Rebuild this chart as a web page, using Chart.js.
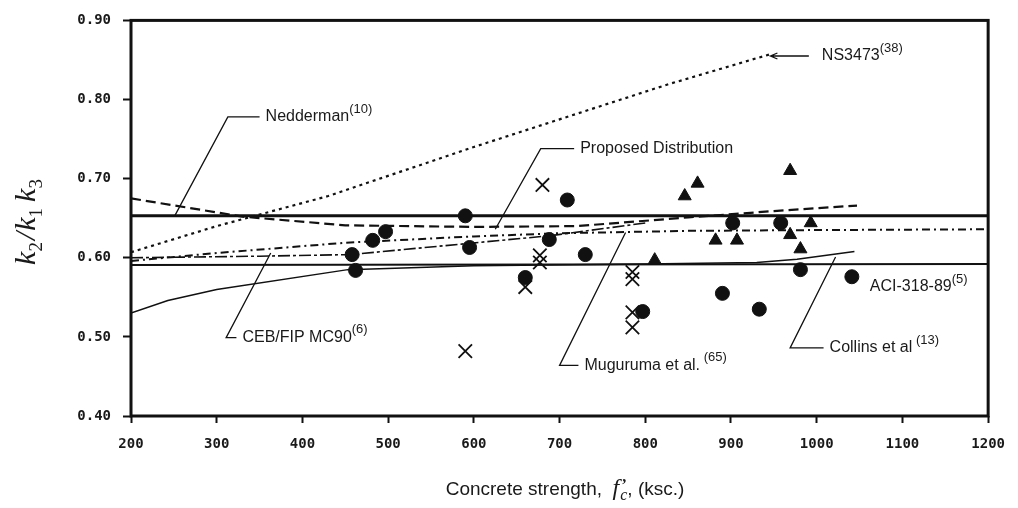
<!DOCTYPE html>
<html>
<head>
<meta charset="utf-8">
<script src="https://cdn.jsdelivr.net/npm/chart.js@4.4.0/dist/chart.umd.min.js"></script>
<style>
  html, body { margin: 0; padding: 0; background: #fff; }
</style>
</head>
<body>
<canvas id="k2Chart" width="1018" height="508"></canvas>
<script>
// axis ticks
const xTicks = [200, 300, 400, 500, 600, 700, 800, 900, 1000, 1100, 1200];
const yTicks = [0.40, 0.50, 0.60, 0.70, 0.80, 0.90];

// design curves: [f'c (ksc), k2/k1k3]
const neddermanCurve = [[200, 0.653], [1200, 0.653]];
const aciCurve = [[200, 0.591], [1200, 0.592]];
const proposedCurve = [[200, 0.675], [330, 0.652], [450, 0.641], [600, 0.639], [720, 0.640], [850, 0.651], [950, 0.659], [1047, 0.666]];
const ns3473Curve = [[200, 0.607], [300, 0.640], [430, 0.678], [600, 0.740], [826, 0.819], [945, 0.857]];
const mugurumaCurve = [[200, 0.596], [300, 0.606], [450, 0.619], [600, 0.627], [700, 0.631], [850, 0.634], [1000, 0.635], [1200, 0.636]];
const cebFipCurve = [[200, 0.600], [350, 0.602], [456, 0.604], [690, 0.628], [800, 0.644]];
const collinsCurve = [[200, 0.530], [243, 0.546], [300, 0.560], [453, 0.585], [600, 0.590], [800, 0.592], [930, 0.594], [977, 0.598], [1044, 0.608]];

// test results
const circlePts = [[458, 0.604], [462, 0.584], [482, 0.622], [497, 0.633], [590, 0.653], [595, 0.613], [660, 0.575], [688, 0.623], [709, 0.673], [730, 0.604], [797, 0.532], [890, 0.555], [902, 0.644], [933, 0.535], [958, 0.644], [981, 0.585], [1041, 0.576]];
const crossPts = [[680, 0.692], [677, 0.603], [677, 0.594], [660, 0.563], [590, 0.482], [785, 0.582], [785, 0.573], [785, 0.531], [785, 0.512]];
const trianglePts = [[811, 0.597], [846, 0.678], [861, 0.694], [882, 0.622], [907, 0.622], [969, 0.710], [969, 0.629], [981, 0.611], [993, 0.644]];

const xy = arr => arr.map(p => ({ x: p[0], y: p[1] }));

// callouts: leader from 'at' via 'elbow' to the text
const notes = [
  { label: 'Nedderman', sup: '(10)', at: [251, 0.653], elbow: [313, 0.778], text: [357, 0.778] },
  { label: 'NS3473', sup: '(38)', at: [946, 0.855], arrow: true, text: [1006, 0.855] },
  { label: 'Proposed Distribution', sup: '', at: [625, 0.636], elbow: [678, 0.738], text: [724, 0.738] },
  { label: 'CEB/FIP MC90', sup: '(6)', at: [363, 0.606], elbow: [311, 0.499], text: [330, 0.499] },
  { label: 'Muguruma et al.', sup: ' (65)', at: [777, 0.632], elbow: [700, 0.464], text: [729, 0.464] },
  { label: 'Collins et al', sup: ' (13)', at: [1022, 0.601], elbow: [969, 0.486], text: [1015, 0.486] },
  { label: 'ACI-318-89', sup: '(5)', text: [1062, 0.563] }
];

function drawRuns(ctx, runs, x0, y0) {
  let x = x0;
  runs.forEach(r => {
    ctx.font = r.font;
    ctx.fillText(r.t, x, y0 + (r.dy || 0));
    x += ctx.measureText(r.t).width + (r.gap || 0);
  });
  return x - x0;
}

function runsWidth(ctx, runs) {
  return runs.reduce((w, r) => { ctx.font = r.font; return w + ctx.measureText(r.t).width + (r.gap || 0); }, 0);
}

const frameAndNotes = {
  id: 'frameAndNotes',
  afterDatasetsDraw(chart) {
    const { ctx, chartArea: a, scales: { x, y } } = chart;
    ctx.save();
    ctx.strokeStyle = '#111';
    ctx.fillStyle = '#1a1a1a';

    // plot frame
    ctx.lineWidth = 3;
    ctx.strokeRect(a.left, a.top, a.right - a.left, a.bottom - a.top);

    // callouts
    ctx.lineWidth = 1.3;
    notes.forEach(n => {
      const tx = x.getPixelForValue(n.text[0]);
      const ty = y.getPixelForValue(n.text[1]);
      if (n.at) {
        const ax = x.getPixelForValue(n.at[0]);
        const ay = y.getPixelForValue(n.at[1]);
        ctx.beginPath();
        if (n.elbow) {
          const ex = x.getPixelForValue(n.elbow[0]);
          const ey = y.getPixelForValue(n.elbow[1]);
          ctx.moveTo(ax, ay);
          ctx.lineTo(ex, ey);
          ctx.lineTo(tx - 6, ey);
        } else {
          ctx.moveTo(tx - 13, ty);
          ctx.lineTo(ax, ay);
          ctx.moveTo(ax + 7, ay - 3);
          ctx.lineTo(ax, ay);
          ctx.lineTo(ax + 7, ay + 3);
        }
        ctx.stroke();
      }
      ctx.textBaseline = 'middle';
      ctx.textAlign = 'left';
      drawRuns(ctx, [
        { t: n.label, font: '16px "Liberation Sans"' },
        { t: n.sup, font: '13px "Liberation Sans"', dy: -8 }
      ], tx, ty);
    });

    // y title
    const yRuns = [
      { t: 'k', font: 'italic 30px "Liberation Serif"' },
      { t: '2', font: '19px "Liberation Serif"', dy: 7, gap: 2 },
      { t: '/', font: 'italic 30px "Liberation Serif"', gap: 1 },
      { t: 'k', font: 'italic 30px "Liberation Serif"' },
      { t: '1', font: '19px "Liberation Serif"', dy: 7, gap: 6 },
      { t: 'k', font: 'italic 30px "Liberation Serif"' },
      { t: '3', font: '19px "Liberation Serif"', dy: 7 }
    ];
    ctx.textBaseline = 'alphabetic';
    ctx.save();
    ctx.translate(35, 222);
    ctx.rotate(-Math.PI / 2);
    drawRuns(ctx, yRuns, -runsWidth(ctx, yRuns) / 2, 0);
    ctx.restore();

    // x title
    const lead = 'Concrete strength,  ';
    const xRuns = [
      { t: lead, font: '19px "Liberation Sans"' },
      { t: 'f', font: 'italic 24px "Liberation Serif"', gap: 1 },
      { t: 'c', font: 'italic 16px "Liberation Serif"', dy: 5 },
      { t: ', (ksc.)', font: '19px "Liberation Sans"' }
    ];
    const xs = 565 - runsWidth(ctx, xRuns) / 2;
    drawRuns(ctx, xRuns, xs, 495);
    ctx.font = '19px "Liberation Sans"';
    const fx = xs + ctx.measureText(lead).width;
    // prime on f
    ctx.font = 'bold 16px "Liberation Serif"';
    ctx.fillText('\u2019', fx + 9, 490);

    ctx.restore();
  }
};

const lineSet = (data, width, dash) => ({
  data: xy(data),
  showLine: true,
  borderColor: '#111',
  borderWidth: width,
  borderDash: dash,
  pointRadius: 0,
  pointHoverRadius: 0,
  fill: false,
  tension: 0
});

new Chart(document.getElementById('k2Chart'), {
  type: 'scatter',
  data: {
    datasets: [
      { data: xy(circlePts), pointStyle: 'circle', pointRadius: 7, backgroundColor: '#111', borderColor: '#111', borderWidth: 1 },
      { data: xy(trianglePts), pointStyle: 'triangle', pointRadius: 7.5, backgroundColor: '#111', borderColor: '#111', borderWidth: 1 },
      { data: xy(crossPts), pointStyle: 'crossRot', pointRadius: 9.5, borderColor: '#111', borderWidth: 1.8 },
      lineSet(neddermanCurve, 3, []),
      lineSet(aciCurve, 2, []),
      lineSet(proposedCurve, 2.2, [10, 5]),
      lineSet(ns3473Curve, 2.2, [3, 4]),
      lineSet(mugurumaCurve, 2, [8, 4, 2, 4]),
      lineSet(cebFipCurve, 1.6, [12, 3, 3, 3]),
      lineSet(collinsCurve, 1.5, [])
    ]
  },
  options: {
    responsive: false,
    devicePixelRatio: 1,
    animation: false,
    layout: { padding: { top: 15, right: 28, bottom: 0, left: 0 } },
    plugins: {
      legend: { display: false },
      tooltip: { enabled: false }
    },
    scales: {
      x: {
        type: 'linear',
        min: 200,
        max: 1200,
        afterBuildTicks: s => { s.ticks = xTicks.map(v => ({ value: v })); },
        afterFit: s => { s.height = 92; },
        border: { display: false },
        grid: { display: true, drawOnChartArea: false, drawTicks: true, tickLength: 7, tickWidth: 2, tickColor: '#111' },
        ticks: {
          padding: 13,
          color: '#1a1a1a',
          font: { family: 'DejaVu Sans Mono', size: 14, weight: 'bold' },
          maxRotation: 0,
          callback: v => String(v)
        }
      },
      y: {
        min: 0.40,
        max: 0.90,
        afterBuildTicks: s => { s.ticks = yTicks.map(v => ({ value: v })); },
        afterFit: s => { s.width = 131; },
        border: { display: false },
        grid: { display: true, drawOnChartArea: false, drawTicks: true, tickLength: 8, tickWidth: 2, tickColor: '#111' },
        ticks: {
          padding: 12,
          color: '#1a1a1a',
          font: { family: 'DejaVu Sans Mono', size: 14, weight: 'bold' },
          callback: v => Number(v).toFixed(2)
        }
      }
    }
  },
  plugins: [frameAndNotes]
});
</script>
</body>
</html>
